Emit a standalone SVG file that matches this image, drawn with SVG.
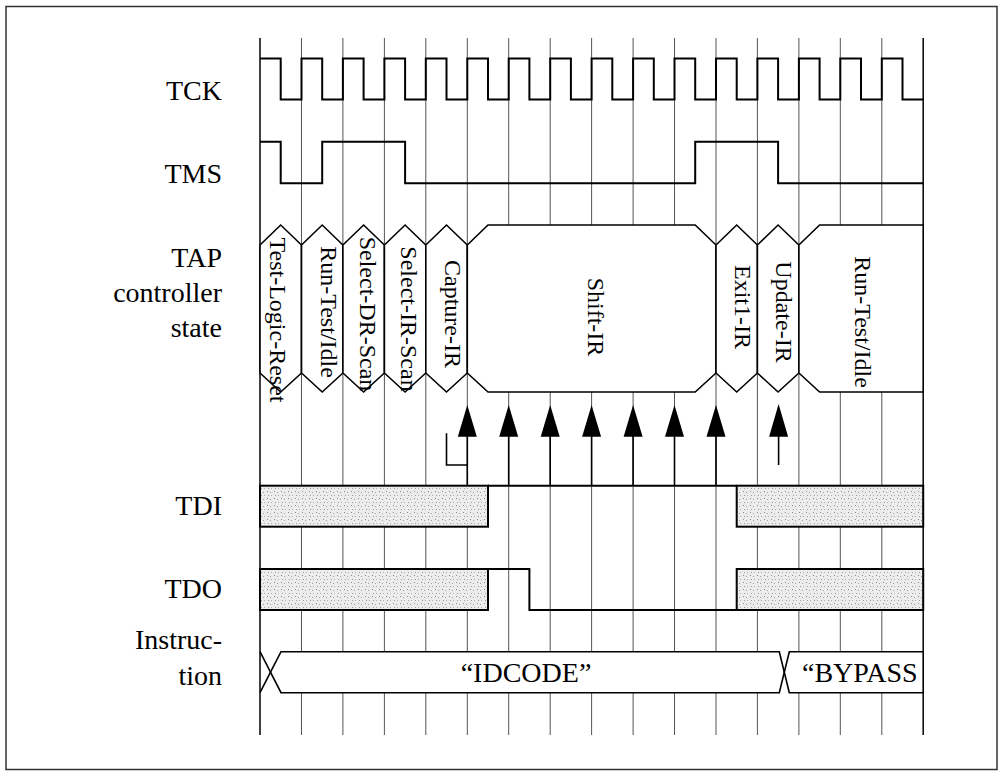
<svg xmlns="http://www.w3.org/2000/svg" width="1006" height="777" viewBox="0 0 1006 777">
<defs>
<pattern id="stipple" x="0" y="0" width="7" height="7" patternUnits="userSpaceOnUse">
<rect width="7" height="7" fill="#ececec"/>
<rect x="1" y="1" width="1" height="1" fill="#8a8a8a"/>
<rect x="4" y="2" width="1" height="1" fill="#a0a0a0"/>
<rect x="2" y="5" width="1" height="1" fill="#9a9a9a"/>
<rect x="5" y="5" width="1" height="1" fill="#b0b0b0"/>
</pattern>
</defs>
<style>
.lbl{font-family:"Liberation Serif","Times New Roman",serif;font-size:28px;fill:#000;text-anchor:end}
.st{font-family:"Liberation Serif","Times New Roman",serif;font-size:24px;fill:#000;text-anchor:middle}
.bus{font-family:"Liberation Serif","Times New Roman",serif;font-size:28px;fill:#000}
.grid{stroke:#555;stroke-width:1;fill:none}
.edge{stroke:#111;stroke-width:1.6;fill:none}
.sig{stroke:#000;stroke-width:2;fill:none}
.shape{stroke:#000;stroke-width:1.6;fill:#fff}
.shade{stroke:#000;stroke-width:2;fill:url(#stipple)}
.head{fill:#000;stroke:none}
.shaft{stroke:#000;stroke-width:1.6;fill:none}
</style>
<rect x="0" y="0" width="1006" height="777" fill="#fff"/>
<rect id="frame" x="6" y="6.5" width="991" height="763" fill="none" stroke="#333" stroke-width="1.5"/>
<g id="grid">
<line class="edge" x1="260" y1="38" x2="260" y2="735"/>
<line class="grid" x1="301.5" y1="38" x2="301.5" y2="735"/>
<line class="grid" x1="342.9" y1="38" x2="342.9" y2="735"/>
<line class="grid" x1="384.4" y1="38" x2="384.4" y2="735"/>
<line class="grid" x1="425.8" y1="38" x2="425.8" y2="735"/>
<line class="grid" x1="467.3" y1="38" x2="467.3" y2="735"/>
<line class="grid" x1="508.7" y1="38" x2="508.7" y2="735"/>
<line class="grid" x1="550.2" y1="38" x2="550.2" y2="735"/>
<line class="grid" x1="591.6" y1="38" x2="591.6" y2="735"/>
<line class="grid" x1="633.1" y1="38" x2="633.1" y2="735"/>
<line class="grid" x1="674.5" y1="38" x2="674.5" y2="735"/>
<line class="grid" x1="716" y1="38" x2="716" y2="735"/>
<line class="grid" x1="757.4" y1="38" x2="757.4" y2="735"/>
<line class="grid" x1="798.9" y1="38" x2="798.9" y2="735"/>
<line class="grid" x1="840.3" y1="38" x2="840.3" y2="735"/>
<line class="grid" x1="881.8" y1="38" x2="881.8" y2="735"/>
<line class="edge" x1="923.2" y1="38" x2="923.2" y2="735"/>
</g>
<g id="labels">
<text class="lbl" x="222" y="99.5">TCK</text>
<text class="lbl" x="222" y="182.7">TMS</text>
<text class="lbl" x="222" y="266.7">TAP</text>
<text class="lbl" x="222" y="301.7">controller</text>
<text class="lbl" x="222" y="336.7">state</text>
<text class="lbl" x="222" y="515">TDI</text>
<text class="lbl" x="222" y="598">TDO</text>
<text class="lbl" x="222" y="649">Instruc-</text>
<text class="lbl" x="222" y="685">tion</text>
</g>
<g id="tck">
<path class="sig" d="M260,58.5 H280.7 V99.5 H301.5 V58.5 H322.2 V99.5 H342.9 V58.5 H363.6 V99.5 H384.4 V58.5 H405.1 V99.5 H425.8 V58.5 H446.5 V99.5 H467.3 V58.5 H488 V99.5 H508.7 V58.5 H529.4 V99.5 H550.2 V58.5 H570.9 V99.5 H591.6 V58.5 H612.3 V99.5 H633.1 V58.5 H653.8 V99.5 H674.5 V58.5 H695.2 V99.5 H716 V58.5 H736.7 V99.5 H757.4 V58.5 H778.1 V99.5 H798.9 V58.5 H819.6 V99.5 H840.3 V58.5 H861 V99.5 H881.8 V58.5 H902.5 V99.5 H923.2"/>
</g>
<g id="tms">
<path class="sig" d="M260,141.7 H280.7 V183.3 H322.2 V141.7 H405.1 V183.3 H695.2 V141.7 H778.1 V183.3 H923.2"/>
</g>
<g id="state-test-logic-reset">
<polygon class="shape" points="260,245 280.7,225 301.5,245 301.5,373 280.7,392 260,373"/>
<text class="st" transform="translate(270,320) rotate(90)">Test-Logic-Reset</text>
</g>
<g id="state-run-test-idle-1">
<polygon class="shape" points="301.5,245 322.2,225 342.9,245 342.9,373 322.2,392 301.5,373"/>
<text class="st" transform="translate(321,312) rotate(90)">Run-Test/Idle</text>
</g>
<g id="state-select-dr-scan">
<polygon class="shape" points="342.9,245 363.6,225 384.4,245 384.4,373 363.6,392 342.9,373"/>
<text class="st" transform="translate(360,314) rotate(90)">Select-DR-Scan</text>
</g>
<g id="state-select-ir-scan">
<polygon class="shape" points="384.4,245 405.1,225 425.8,245 425.8,373 405.1,392 384.4,373"/>
<text class="st" transform="translate(401,319) rotate(90)">Select-IR-Scan</text>
</g>
<g id="state-capture-ir">
<polygon class="shape" points="425.8,245 446.5,225 467.3,245 467.3,373 446.5,392 425.8,373"/>
<text class="st" transform="translate(445,314) rotate(90)">Capture-IR</text>
</g>
<g id="state-shift-ir">
<polygon class="shape" points="467.3,245 488,225 695.2,225 716,245 716,373 695.2,392 488,392 467.3,373"/>
<text class="st" transform="translate(588,317) rotate(90)">Shift-IR</text>
</g>
<g id="state-exit1-ir">
<polygon class="shape" points="716,245 736.7,225 757.4,245 757.4,373 736.7,392 716,373"/>
<text class="st" transform="translate(735,307) rotate(90)">Exit1-IR</text>
</g>
<g id="state-update-ir">
<polygon class="shape" points="757.4,245 778.1,225 798.9,245 798.9,373 778.1,392 757.4,373"/>
<text class="st" transform="translate(776,312) rotate(90)">Update-IR</text>
</g>
<g id="state-run-test-idle-2">
<polygon class="shape" points="798.9,245 819.6,225 923.2,225 923.2,392 819.6,392 798.9,373"/>
<text class="st" transform="translate(855,322) rotate(90)">Run-Test/Idle</text>
</g>
<g id="connectors">
<path class="shaft" d="M446.5,433.3 V465 H467.3 M467.3,436 V485.7 M508.7,436 V485.7 M550.2,436 V485.7 M591.6,436 V485.7 M633.1,436 V485.7 M674.5,436 V485.7 M716,436 V485.7 M778.6,436 V465"/>
<polygon class="head" points="467.3,405 457.8,436.7 476.8,436.7"/>
<polygon class="head" points="508.7,405 499.2,436.7 518.2,436.7"/>
<polygon class="head" points="550.2,405 540.7,436.7 559.7,436.7"/>
<polygon class="head" points="591.6,405 582.1,436.7 601.1,436.7"/>
<polygon class="head" points="633.1,405 623.6,436.7 642.6,436.7"/>
<polygon class="head" points="674.5,405 665,436.7 684,436.7"/>
<polygon class="head" points="716,405 706.5,436.7 725.5,436.7"/>
<polygon class="head" points="778.6,404 769.1,436.7 788.1,436.7"/>
</g>
<g id="tdi">
<rect class="shade" x="260" y="485.7" width="228" height="41"/>
<path class="sig" d="M488,485.7 H736.7"/>
<rect class="shade" x="736.7" y="485.7" width="186.5" height="41"/>
</g>
<g id="tdo">
<rect class="shade" x="260" y="569" width="228" height="41"/>
<path class="sig" d="M488,569 H529.4 V610 H736.7"/>
<rect class="shade" x="736.7" y="569" width="186.5" height="41"/>
</g>
<g id="instruction">
<polygon class="shape" points="270.5,672.2 281,651.7 779.3,651.7 784.3,672.2 779.3,692.7 281,692.7"/>
<path class="shaft" d="M260,651.7 L270.5,672.2 L260,692.7"/>
<polygon class="shape" points="784.3,672.2 789.3,651.7 923.2,651.7 923.2,692.7 789.3,692.7"/>
<text class="bus" x="526" y="682" text-anchor="middle">“IDCODE”</text>
<text class="bus" x="802" y="682">“BYPASS</text>
</g>
</svg>
